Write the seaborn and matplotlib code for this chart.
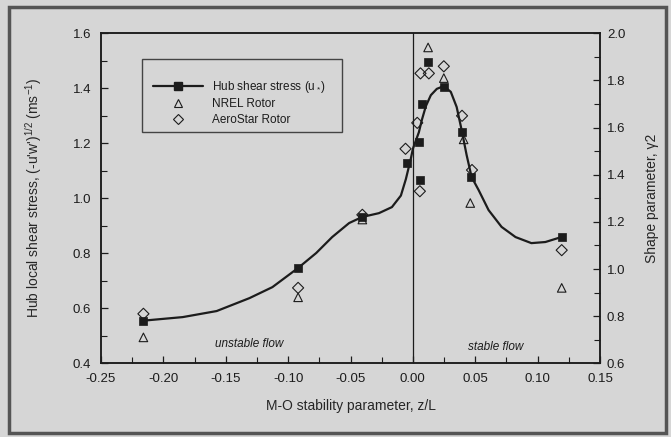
import matplotlib
matplotlib.use("Agg")
import matplotlib.pyplot as plt
import seaborn as sns
from matplotlib.patches import Rectangle
from matplotlib.lines import Line2D
from matplotlib.ticker import MultipleLocator, FormatStrFormatter

# Hub shear stress u* (left axis) against M-O stability parameter z/L
hub_x = [-0.216, -0.092, -0.0405, -0.0045, 0.0048, 0.0056, 0.0075, 0.0122, 0.0248, 0.0394, 0.0469, 0.1193]
hub_y = [0.555, 0.748, 0.931, 1.129, 1.205, 1.067, 1.343, 1.496, 1.405, 1.241, 1.079, 0.858]

# Smoothed fit through the hub shear stress values
fit_x = [-0.2162, -0.1845, -0.1573, -0.131, -0.1126, -0.0919, -0.0775, -0.0647, -0.0511,
         -0.0407, -0.0272, -0.0168, -0.0096, -0.0056, -0.0016, 0.0, 0.0048, 0.0072, 0.0104,
         0.0144, 0.0192, 0.0248, 0.0304, 0.0351, 0.0391, 0.0431, 0.0471, 0.0527, 0.0607,
         0.0711, 0.0823, 0.095, 0.1062, 0.119]
fit_y = [0.555, 0.568, 0.590, 0.637, 0.677, 0.747, 0.801, 0.859, 0.910, 0.932, 0.946, 0.968,
         1.010, 1.070, 1.145, 1.180, 1.240, 1.285, 1.335, 1.375, 1.398, 1.408, 1.387, 1.332,
         1.248, 1.157, 1.077, 1.030, 0.957, 0.896, 0.859, 0.837, 0.841, 0.859]

# Shape parameter gamma2 (right axis) for the two rotors
nrel_x = [-0.216, -0.092, -0.0405, 0.0122, 0.0248, 0.0407, 0.046, 0.1193]
nrel_g = [0.71, 0.88, 1.21, 1.94, 1.81, 1.55, 1.28, 0.92]
aero_x = [-0.216, -0.092, -0.0405, -0.0059, 0.0035, 0.0056, 0.0061, 0.0128, 0.0248, 0.0394, 0.0474, 0.1193]
aero_g = [0.81, 0.92, 1.23, 1.51, 1.62, 1.33, 1.83, 1.83, 1.86, 1.65, 1.42, 1.08]

x_ticks = [-0.25, -0.20, -0.15, -0.10, -0.05, 0.00, 0.05, 0.10, 0.15]

BG = "#d6d6d6"
INK = "#1c1c1c"

sns.set_theme(style="ticks")
plt.rcParams["font.family"] = ["Liberation Sans", "DejaVu Sans"]
plt.rcParams["mathtext.fontset"] = "custom"
plt.rcParams["mathtext.rm"] = "Liberation Sans"
plt.rcParams["mathtext.it"] = "Liberation Sans:italic"
plt.rcParams["text.color"] = INK
plt.rcParams["axes.edgecolor"] = INK
plt.rcParams["xtick.color"] = INK
plt.rcParams["ytick.color"] = INK

fig = plt.figure(figsize=(6.71, 4.37), dpi=100, facecolor=BG)
ax = fig.add_axes([101 / 671, 1 - 363.3 / 437, (600 - 101) / 671, (363.3 - 33.3) / 437])
ax.set_facecolor("none")
ax2 = ax.twinx()
ax2.set_facecolor("none")

# outer frame of the figure
fig.patches.append(Rectangle((9 / 671, 4 / 437), 657 / 671, 426 / 437, transform=fig.transFigure,
                             facecolor="none", edgecolor="#555555", lw=2.5, zorder=0))

# zero line separating unstable and stable flow
ax.axvline(0.0, color=INK, lw=0.9, zorder=1)

sns.lineplot(x=fit_x, y=fit_y, ax=ax, color=INK, lw=1.6, sort=False, estimator=None, zorder=3)
sns.scatterplot(x=hub_x, y=hub_y, ax=ax, marker="s", s=30, color=INK, edgecolor=INK,
                linewidth=0.5, zorder=4)
sns.scatterplot(x=nrel_x, y=nrel_g, ax=ax2, marker="^", s=38, color=INK, facecolor="none",
                edgecolor=INK, linewidth=0.8, zorder=4)
sns.scatterplot(x=aero_x, y=aero_g, ax=ax2, marker="D", s=32, color=INK, facecolor="none",
                edgecolor=INK, linewidth=0.8, zorder=4)

ax.set_xlim(-0.25, 0.15)
ax.set_ylim(0.4, 1.6)
ax2.set_ylim(0.6, 2.0)

ax.set_xticks(x_ticks)
ax.xaxis.set_major_formatter(FormatStrFormatter("%.2f"))
ax.xaxis.set_minor_locator(MultipleLocator(0.025))
ax.yaxis.set_major_locator(MultipleLocator(0.2))
ax.yaxis.set_minor_locator(MultipleLocator(0.1))
ax.yaxis.set_major_formatter(FormatStrFormatter("%.1f"))
ax2.yaxis.set_major_locator(MultipleLocator(0.2))
ax2.yaxis.set_minor_locator(MultipleLocator(0.1))
ax2.yaxis.set_major_formatter(FormatStrFormatter("%.1f"))

ax.tick_params(axis="both", which="both", direction="in", labelsize=9.5, colors=INK)
ax.tick_params(axis="x", which="both", top=False, pad=7)
ax.tick_params(axis="y", which="both", right=False, pad=7)
ax.tick_params(which="major", length=5, width=0.9)
ax.tick_params(which="minor", length=4, width=0.8)
ax2.tick_params(axis="y", which="both", direction="in", labelsize=9.5, colors=INK, pad=5)
ax2.tick_params(which="major", length=5, width=0.9)
ax2.tick_params(which="minor", length=4, width=0.8)

for a in (ax, ax2):
    for sp in a.spines.values():
        sp.set_linewidth(1.1)
        sp.set_color(INK)

ax.set_xlabel("M-O stability parameter, z/L", fontsize=10, va="center")
ax.xaxis.set_label_coords(0.5, -0.13)
ax.set_ylabel("Hub local shear stress, (-u'w')$^{1/2}$ (ms$^{-1}$)", fontsize=10, va="center")
ax.yaxis.set_label_coords(-0.135, 0.5)
ax2.set_ylabel("Shape parameter, \u03b32", fontsize=10, va="center", rotation=90)
ax2.yaxis.set_label_coords(1.104, 0.5)

ax.text(-0.131, 0.47, "unstable flow", style="italic", fontsize=8.5, ha="center", va="center")
ax.text(0.0667, 0.458, "stable flow", style="italic", fontsize=8.5, ha="center", va="center")

# legend with its own square frame
ax2.add_patch(Rectangle((0.082, 0.70), 0.400, 0.222, transform=ax2.transAxes, facecolor="none",
                        edgecolor="#444444", lw=1.0, zorder=5))
handles = [
    Line2D([], [], color=INK, lw=1.6, marker="s", markersize=5.5, markerfacecolor=INK),
    Line2D([], [], color=INK, lw=0, marker="^", markersize=6, markerfacecolor="none",
           markeredgewidth=0.8),
    Line2D([], [], color=INK, lw=0, marker="D", markersize=5.5, markerfacecolor="none",
           markeredgewidth=0.8),
]
labels = ["Hub shear stress (u$_*$)", "NREL Rotor", "AeroStar Rotor"]
ax2.legend(handles, labels, loc="upper left", bbox_to_anchor=(0.105, 0.862), frameon=False,
           fontsize=8.5, handlelength=4.2, handletextpad=0.8, labelspacing=0.3,
           borderpad=0, borderaxespad=0)

fig.savefig("out.png", dpi=100, facecolor=BG)
